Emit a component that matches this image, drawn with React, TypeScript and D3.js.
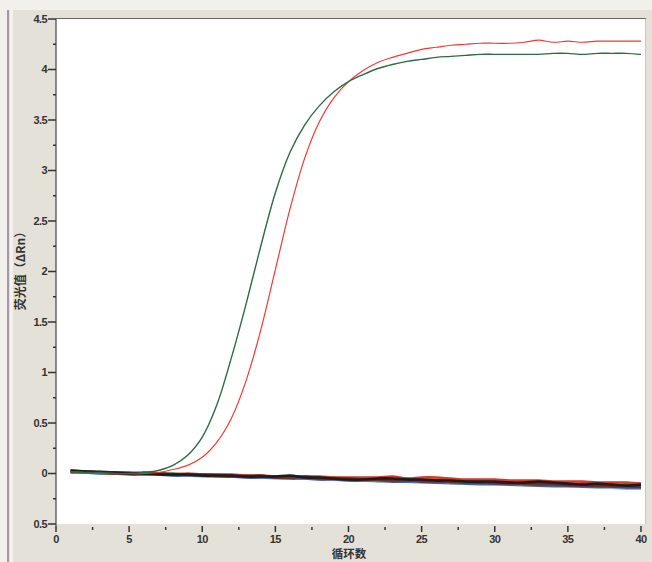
import React from "react";
import * as d3 from "d3";

// cycle numbers 1..40
const cycles = d3.range(1, 41);

// amplified wells (ΔRn per cycle)
const greenWell = [
  0.02, 0.01, 0.01, 0.0, 0.0, 0.01, 0.03, 0.08, 0.18, 0.36,
  0.68, 1.15, 1.68, 2.25, 2.78, 3.18, 3.45, 3.64, 3.78, 3.88,
  3.95, 4.01, 4.05, 4.08, 4.1, 4.12, 4.13, 4.14, 4.15, 4.15,
  4.15, 4.15, 4.15, 4.16, 4.16, 4.15, 4.16, 4.16, 4.16, 4.15
];
const redWell = [
  0.02, 0.01, 0.0, 0.0, 0.0, 0.0, 0.01, 0.04, 0.08, 0.16,
  0.31, 0.55, 0.92, 1.42, 2.02, 2.62, 3.12, 3.48, 3.72, 3.88,
  3.99, 4.07, 4.12, 4.16, 4.2, 4.22, 4.24, 4.25, 4.26, 4.26,
  4.26, 4.27, 4.29, 4.27, 4.28, 4.27, 4.28, 4.28, 4.28, 4.28
];

// negative wells, flat and drifting down
const negBlack = [0.03,0.02,0.01,0.01,0.0,0.0,-0.01,-0.01,-0.01,-0.02,-0.02,-0.02,-0.03,-0.03,-0.03,-0.02,-0.04,-0.04,-0.05,-0.06,-0.06,-0.05,-0.05,-0.06,-0.06,-0.07,-0.07,-0.08,-0.08,-0.08,-0.09,-0.09,-0.08,-0.09,-0.10,-0.11,-0.10,-0.11,-0.12,-0.11];
const negBrown = [0.02,0.02,0.01,0.0,0.0,0.01,0.0,-0.01,-0.01,-0.01,-0.02,-0.03,-0.03,-0.02,-0.04,-0.04,-0.03,-0.05,-0.05,-0.05,-0.06,-0.06,-0.07,-0.06,-0.07,-0.07,-0.08,-0.08,-0.09,-0.09,-0.09,-0.10,-0.10,-0.10,-0.11,-0.11,-0.12,-0.12,-0.12,-0.13];
const negRed = [0.02,0.01,0.01,0.0,0.0,0.0,0.0,-0.01,0.0,-0.01,-0.01,-0.01,-0.02,-0.02,-0.03,-0.03,-0.03,-0.03,-0.04,-0.04,-0.04,-0.04,-0.03,-0.05,-0.04,-0.04,-0.05,-0.06,-0.06,-0.06,-0.07,-0.07,-0.07,-0.08,-0.08,-0.08,-0.09,-0.09,-0.09,-0.10];
const negBlue = [0.01,0.01,0.0,0.0,-0.01,-0.01,-0.01,-0.02,-0.02,-0.02,-0.03,-0.03,-0.04,-0.04,-0.04,-0.05,-0.05,-0.06,-0.06,-0.07,-0.07,-0.07,-0.08,-0.08,-0.08,-0.09,-0.09,-0.10,-0.10,-0.10,-0.11,-0.11,-0.12,-0.12,-0.12,-0.13,-0.13,-0.13,-0.14,-0.14];
const negGreen = [0.02,0.02,0.01,0.01,0.0,0.0,0.0,0.0,-0.01,-0.01,-0.01,-0.02,-0.02,-0.03,-0.03,-0.03,-0.04,-0.04,-0.05,-0.05,-0.05,-0.06,-0.06,-0.06,-0.07,-0.07,-0.07,-0.08,-0.08,-0.09,-0.09,-0.09,-0.10,-0.10,-0.10,-0.11,-0.11,-0.11,-0.12,-0.12];
const negYellow = [0.02,0.01,0.01,0.0,0.0,0.0,-0.01,-0.01,-0.01,-0.01,-0.02,-0.02,-0.02,-0.03,-0.03,-0.03,-0.03,-0.04,-0.04,-0.05,-0.05,-0.05,-0.05,-0.05,-0.06,-0.06,-0.06,-0.07,-0.07,-0.07,-0.08,-0.08,-0.08,-0.09,-0.09,-0.09,-0.10,-0.10,-0.10,-0.11];
const negPurple = [0.03,0.02,0.02,0.01,0.01,0.0,0.0,-0.01,-0.01,-0.02,-0.02,-0.02,-0.03,-0.03,-0.04,-0.04,-0.04,-0.05,-0.05,-0.06,-0.06,-0.06,-0.07,-0.07,-0.08,-0.08,-0.08,-0.09,-0.09,-0.10,-0.10,-0.10,-0.11,-0.11,-0.12,-0.12,-0.12,-0.13,-0.13,-0.13];
const negCyan = [0.01,0.01,0.0,0.0,0.0,-0.01,-0.01,-0.02,-0.02,-0.03,-0.03,-0.03,-0.04,-0.04,-0.05,-0.05,-0.05,-0.06,-0.06,-0.07,-0.07,-0.08,-0.08,-0.08,-0.09,-0.09,-0.10,-0.10,-0.11,-0.11,-0.11,-0.12,-0.12,-0.13,-0.13,-0.13,-0.14,-0.14,-0.15,-0.15];

const negSeries = [
  { values: negCyan, color: "#8fb8d8" },
  { values: negBlue, color: "#4a5fa8" },
  { values: negYellow, color: "#c9a534" },
  { values: negGreen, color: "#3f7a45" },
  { values: negRed, color: "#d23a2c" },
  { values: negPurple, color: "#5b3d66" },
  { values: negBrown, color: "#6e3020" },
  { values: negBlack, color: "#1c1c1c" }
];

// tick labels (the minus on -0.5 is lost in the original)
const yTicks = [-0.5, 0, 0.5, 1, 1.5, 2, 2.5, 3, 3.5, 4, 4.5];
const yTickLabels = ["0.5", "0", "0.5", "1", "1.5", "2", "2.5", "3", "3.5", "4", "4.5"];
const xTicks = [0, 5, 10, 15, 20, 25, 30, 35, 40];

const W = 652;
const H = 562;
const tickFont = "'Liberation Sans', Arial, sans-serif";
const cjkFont = "'Noto Sans CJK SC', sans-serif";

export default function App() {
  const x = d3.scaleLinear().domain([0, 40]).range([56, 641]);
  const y = d3.scaleLinear().domain([-0.5, 4.5]).range([524, 19]);

  const line = d3
    .line<number>()
    .x((_, i) => x(cycles[i]))
    .y(d => y(d))
    .curve(d3.curveCatmullRom.alpha(0.5));

  const minorY = d3.range(-0.25, 4.5, 0.5);
  const minorX = d3.range(2.5, 40, 5);

  return (
    <svg
      width={W}
      height={H}
      style={{ position: "absolute", left: 0, top: 0, display: "block" }}
    >
      {/* scanned page background */}
      <rect x={0} y={0} width={W} height={H} fill="#e4e2d8" />
      <rect x={0} y={0} width={W} height={10} fill="#f1f0ea" />
      <rect x={0} y={0} width={7} height={H} fill="#f1f0ea" />
      <line x1={8} x2={8} y1={10} y2={H} stroke="#8e7f9a" strokeWidth={1.5} />
      <rect x={10} y={10} width={3} height={H - 10} fill="#f3f2ee" />

      {/* plot area */}
      <rect x={x(0)} y={y(4.5)} width={645 - x(0)} height={y(-0.5) - y(4.5)} fill="#ffffff" />
      <line x1={x(0)} x2={646} y1={y(4.5) - 0.5} y2={y(4.5) - 0.5} stroke="#666" strokeWidth={1.2} />
      <line x1={645.5} x2={645.5} y1={y(4.5)} y2={y(-0.5)} stroke="#c8c8c4" strokeWidth={1} />
      <line x1={x(0)} x2={x(0)} y1={y(4.5)} y2={y(-0.5) + 2} stroke="#444" strokeWidth={1.2} />

      {/* y axis ticks */}
      {yTicks.map((t, i) => (
        <g key={`yt${i}`}>
          <line x1={x(0) - 8} x2={x(0)} y1={y(t)} y2={y(t)} stroke="#333" strokeWidth={1.5} />
          <text
            x={x(0) - 9}
            y={y(t)}
            dy="0.35em"
            textAnchor="end"
            fontFamily={tickFont}
            fontWeight="bold"
            fontSize={11}
            letterSpacing={-0.6}
            fill="#333"
          >
            {yTickLabels[i]}
          </text>
        </g>
      ))}
      {minorY.map(t => (
        <line key={`ym${t}`} x1={x(0) - 3} x2={x(0)} y1={y(t)} y2={y(t)} stroke="#333" strokeWidth={1.5} />
      ))}

      {/* x axis ticks */}
      {xTicks.map(t => (
        <g key={`xt${t}`}>
          <line x1={x(t)} x2={x(t)} y1={y(-0.5) + 2} y2={y(-0.5) + 8} stroke="#333" strokeWidth={1.5} />
          <text
            x={x(t)}
            y={543}
            textAnchor="middle"
            fontFamily={tickFont}
            fontWeight="bold"
            fontSize={11}
            letterSpacing={-0.6}
            fill="#333"
          >
            {t}
          </text>
        </g>
      ))}
      {minorX.map(t => (
        <line key={`xm${t}`} x1={x(t)} x2={x(t)} y1={y(-0.5) + 3} y2={y(-0.5) + 6} stroke="#333" strokeWidth={1.5} />
      ))}

      {/* axis titles */}
      <text
        transform="translate(25,268) rotate(-90)"
        textAnchor="middle"
        fontFamily={cjkFont}
        fontWeight="bold"
        fontSize={12}
        fill="#333"
      >
        荧光值（ΔRn）
      </text>
      <text
        x={349}
        y={558}
        textAnchor="middle"
        fontFamily={cjkFont}
        fontWeight="bold"
        fontSize={11.5}
        fill="#333"
      >
        循环数
      </text>

      {/* negative wells */}
      {negSeries.map((s, i) => (
        <path
          key={`neg${i}`}
          d={line(s.values) || ""}
          fill="none"
          stroke={s.color}
          strokeWidth={2.6}
        />
      ))}

      {/* amplified wells */}
      <path d={line(redWell) || ""} fill="none" stroke="#f03a3a" strokeWidth={1.2} />
      <path d={line(greenWell) || ""} fill="none" stroke="#2f6a46" strokeWidth={1.4} />
    </svg>
  );
}
